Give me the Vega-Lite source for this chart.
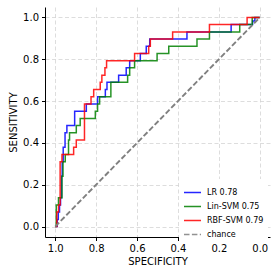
{
  "$schema": "https://vega.github.io/schema/vega-lite/v6.json",
  "width": 225,
  "height": 230,
  "autosize": {"type": "none"},
  "padding": {"left": 45, "top": 7, "right": 7, "bottom": 39},
  "config": {
    "view": {"stroke": null},
    "font": "DejaVu Sans",
    "axis": {
      "domainColor": "#000000",
      "domainWidth": 1,
      "tickColor": "#000000",
      "tickSize": 3.5,
      "tickWidth": 1,
      "labelFont": "DejaVu Sans",
      "labelFontSize": 10,
      "labelColor": "#000000",
      "labelPadding": 3,
      "titleFont": "DejaVu Sans",
      "titleFontSize": 10,
      "titleFontWeight": "normal",
      "titleColor": "#000000",
      "gridColor": "#d4d4d4",
      "gridDash": [4, 2.5],
      "gridWidth": 0.8
    }
  },
  "data": {
    "values": [
      {"series": "LR 0.78", "spec": 1.0, "sens": 0},
      {"series": "LR 0.78", "spec": 0.990, "sens": 0.034},
      {"series": "LR 0.78", "spec": 0.985, "sens": 0.069},
      {"series": "LR 0.78", "spec": 0.979, "sens": 0.103},
      {"series": "LR 0.78", "spec": 0.974, "sens": 0.138},
      {"series": "LR 0.78", "spec": 0.969, "sens": 0.241},
      {"series": "LR 0.78", "spec": 0.966, "sens": 0.310},
      {"series": "LR 0.78", "spec": 0.961, "sens": 0.379},
      {"series": "LR 0.78", "spec": 0.952, "sens": 0.448},
      {"series": "LR 0.78", "spec": 0.943, "sens": 0.483},
      {"series": "LR 0.78", "spec": 0.905, "sens": 0.552},
      {"series": "LR 0.78", "spec": 0.848, "sens": 0.586},
      {"series": "LR 0.78", "spec": 0.793, "sens": 0.621},
      {"series": "LR 0.78", "spec": 0.755, "sens": 0.655},
      {"series": "LR 0.78", "spec": 0.747, "sens": 0.690},
      {"series": "LR 0.78", "spec": 0.690, "sens": 0.724},
      {"series": "LR 0.78", "spec": 0.653, "sens": 0.759},
      {"series": "LR 0.78", "spec": 0.636, "sens": 0.793},
      {"series": "LR 0.78", "spec": 0.584, "sens": 0.828},
      {"series": "LR 0.78", "spec": 0.555, "sens": 0.862},
      {"series": "LR 0.78", "spec": 0.538, "sens": 0.897},
      {"series": "LR 0.78", "spec": 0.356, "sens": 0.931},
      {"series": "LR 0.78", "spec": 0.140, "sens": 0.966},
      {"series": "LR 0.78", "spec": 0.035, "sens": 0.983},
      {"series": "LR 0.78", "spec": 0.024, "sens": 1.0},
      {"series": "LR 0.78", "spec": 0.0, "sens": 1.0},
      {"series": "Lin-SVM 0.75", "spec": 1.0, "sens": 0},
      {"series": "Lin-SVM 0.75", "spec": 0.995, "sens": 0.103},
      {"series": "Lin-SVM 0.75", "spec": 0.984, "sens": 0.138},
      {"series": "Lin-SVM 0.75", "spec": 0.967, "sens": 0.241},
      {"series": "Lin-SVM 0.75", "spec": 0.962, "sens": 0.310},
      {"series": "Lin-SVM 0.75", "spec": 0.951, "sens": 0.345},
      {"series": "Lin-SVM 0.75", "spec": 0.935, "sens": 0.414},
      {"series": "Lin-SVM 0.75", "spec": 0.930, "sens": 0.448},
      {"series": "Lin-SVM 0.75", "spec": 0.897, "sens": 0.483},
      {"series": "Lin-SVM 0.75", "spec": 0.878, "sens": 0.517},
      {"series": "Lin-SVM 0.75", "spec": 0.804, "sens": 0.552},
      {"series": "Lin-SVM 0.75", "spec": 0.793, "sens": 0.586},
      {"series": "Lin-SVM 0.75", "spec": 0.783, "sens": 0.621},
      {"series": "Lin-SVM 0.75", "spec": 0.728, "sens": 0.690},
      {"series": "Lin-SVM 0.75", "spec": 0.646, "sens": 0.724},
      {"series": "Lin-SVM 0.75", "spec": 0.636, "sens": 0.759},
      {"series": "Lin-SVM 0.75", "spec": 0.612, "sens": 0.793},
      {"series": "Lin-SVM 0.75", "spec": 0.502, "sens": 0.828},
      {"series": "Lin-SVM 0.75", "spec": 0.445, "sens": 0.862},
      {"series": "Lin-SVM 0.75", "spec": 0.307, "sens": 0.897},
      {"series": "Lin-SVM 0.75", "spec": 0.246, "sens": 0.931},
      {"series": "Lin-SVM 0.75", "spec": 0.098, "sens": 0.966},
      {"series": "Lin-SVM 0.75", "spec": 0.037, "sens": 1.0},
      {"series": "Lin-SVM 0.75", "spec": 0.0, "sens": 1.0},
      {"series": "RBF-SVM 0.79", "spec": 1.0, "sens": 0},
      {"series": "RBF-SVM 0.79", "spec": 0.992, "sens": 0.069},
      {"series": "RBF-SVM 0.79", "spec": 0.984, "sens": 0.103},
      {"series": "RBF-SVM 0.79", "spec": 0.976, "sens": 0.310},
      {"series": "RBF-SVM 0.79", "spec": 0.967, "sens": 0.345},
      {"series": "RBF-SVM 0.79", "spec": 0.910, "sens": 0.379},
      {"series": "RBF-SVM 0.79", "spec": 0.897, "sens": 0.414},
      {"series": "RBF-SVM 0.79", "spec": 0.857, "sens": 0.586},
      {"series": "RBF-SVM 0.79", "spec": 0.825, "sens": 0.621},
      {"series": "RBF-SVM 0.79", "spec": 0.812, "sens": 0.655},
      {"series": "RBF-SVM 0.79", "spec": 0.780, "sens": 0.690},
      {"series": "RBF-SVM 0.79", "spec": 0.772, "sens": 0.724},
      {"series": "RBF-SVM 0.79", "spec": 0.757, "sens": 0.759},
      {"series": "RBF-SVM 0.79", "spec": 0.749, "sens": 0.793},
      {"series": "RBF-SVM 0.79", "spec": 0.612, "sens": 0.828},
      {"series": "RBF-SVM 0.79", "spec": 0.543, "sens": 0.862},
      {"series": "RBF-SVM 0.79", "spec": 0.535, "sens": 0.897},
      {"series": "RBF-SVM 0.79", "spec": 0.426, "sens": 0.931},
      {"series": "RBF-SVM 0.79", "spec": 0.246, "sens": 0.966},
      {"series": "RBF-SVM 0.79", "spec": 0.062, "sens": 1.0},
      {"series": "RBF-SVM 0.79", "spec": 0.0, "sens": 1.0},
      {"series": "chance", "spec": 1.0, "sens": 0.0},
      {"series": "chance", "spec": 0.0, "sens": 1.0}
    ]
  },
  "encoding": {
    "x": {
      "field": "spec", "type": "quantitative",
      "scale": {"domain": [-0.05, 1.05], "reverse": true, "nice": false, "zero": false},
      "axis": {"values": [0, 0.2, 0.4, 0.6, 0.8, 1.0], "format": ".1f", "title": "SPECIFICITY", "titlePadding": 3}
    },
    "y": {
      "field": "sens", "type": "quantitative",
      "scale": {"domain": [-0.05, 1.05], "nice": false, "zero": false},
      "axis": {"values": [0, 0.2, 0.4, 0.6, 0.8, 1.0], "format": ".1f", "title": "SENSITIVITY", "titlePadding": 4}
    },
    "color": {
      "field": "series", "type": "nominal",
      "scale": {"domain": ["LR 0.78", "Lin-SVM 0.75", "RBF-SVM 0.79", "chance"], "range": ["#0000ff", "#008000", "#ff0000", "#808080"]},
      "legend": {
        "title": null, "orient": "none", "legendX": 134, "legendY": 172,
        "symbolType": "stroke", "symbolSize": 289, "symbolStrokeWidth": 1.5,
        "labelFontSize": 8, "labelFont": "DejaVu Sans", "labelColor": "#000000",
        "labelOffset": 5, "rowPadding": 0, "padding": 4, "fillColor": "#ffffff"
      }
    },
    "strokeDash": {
      "field": "series", "type": "nominal",
      "scale": {"domain": ["LR 0.78", "Lin-SVM 0.75", "RBF-SVM 0.79", "chance"], "range": [[1, 0], [1, 0], [1, 0], [5.5, 2.4]]},
      "legend": {
        "title": null, "orient": "none", "legendX": 134, "legendY": 172,
        "symbolType": "stroke", "symbolSize": 289, "symbolStrokeWidth": 1.5,
        "labelFontSize": 8, "labelFont": "DejaVu Sans", "labelColor": "#000000",
        "labelOffset": 5, "rowPadding": 0, "padding": 4, "fillColor": "#ffffff"
      }
    },
    "order": {"field": "spec", "sort": "descending"}
  },
  "layer": [
    {
      "transform": [{"filter": "datum.series !== 'chance'"}],
      "mark": {"type": "line", "interpolate": "step-after", "strokeWidth": 1.5, "opacity": 0.85}
    },
    {
      "transform": [{"filter": "datum.series === 'chance'"}],
      "mark": {"type": "line", "strokeWidth": 1.9}
    }
  ]
}
